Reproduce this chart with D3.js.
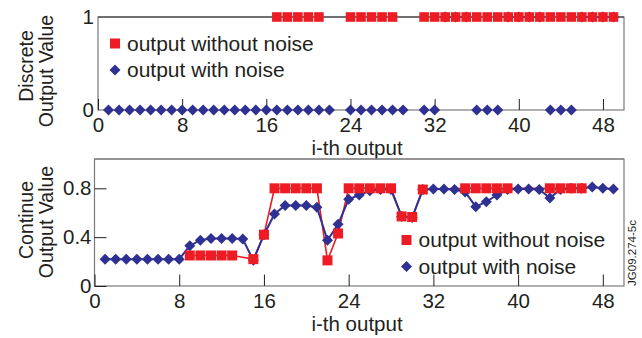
<!DOCTYPE html>
<html>
<head>
<meta charset="utf-8">
<script src="https://cdn.jsdelivr.net/npm/d3@7"></script>
<style>
body { margin: 0; background: #fff; }
svg text { font-family: "Liberation Sans", Arial, Helvetica, sans-serif; fill: #231f20; }
</style>
</head>
<body>
<div class="canvas"></div>
<script>
// i-th output (categories)
const outputIndex = [1,2,3,4,5,6,7,8,9,10,11,12,13,14,15,16,17,18,19,20,21,22,23,24,25,
    26,27,28,29,30,31,32,33,34,35,36,37,38,39,40,41,42,43,44,45,46,47,48,49];

// discrete output, null = not plotted
const discreteNoNoise = [null,null,null,null,null,null,null,null,null,null,null,null,null,null,null,null,
    1,1,1,1,1,null,null,1,1,1,1,1,null,null,
    1,1,1,1,1,1,1,1,1,1,1,1,1,1,1,1,1,1,1];
const discreteNoise = [0,0,0,0,0,0,0,0,0,0,0,0,0,0,0,0,0,0,0,0,0,0,null,
    0,0,0,0,0,0,null,0,0,1,1,1,0,0,0,1,1,1,1,0,0,0,1,1,1,1];

// continue output
const contNoNoise = [null,null,null,null,null,null,null,null,
    0.25,0.25,0.25,0.25,0.25,null,0.22,0.42,
    0.80,0.80,0.80,0.80,0.80,0.21,0.43,
    0.80,0.80,0.80,0.80,0.80,0.57,0.565,0.79,
    null,null,null,0.80,0.80,0.80,0.80,0.80,
    null,null,null,0.80,0.80,0.80,0.80,null,null,null];
const contNoise = [0.22,0.22,0.22,0.22,0.22,0.22,0.22,0.22,
    0.33,0.375,0.39,0.39,0.39,0.385,0.21,0.42,
    0.59,0.66,0.66,0.66,0.645,0.375,0.505,
    0.71,0.745,0.78,0.79,0.79,0.57,0.56,0.79,
    0.795,0.795,0.79,0.77,0.65,0.69,0.745,0.79,
    0.795,0.795,0.79,0.72,0.79,0.80,0.80,0.81,0.80,0.795];

const xTicks = [0, 8, 16, 24, 32, 40, 48];
const discreteTicks = [0, 1];
const continueTicks = [0, 0.4, 0.8];
const legendLabels = ["output without noise", "output with noise"];

const red = "#ed1c24", blue = "#2e3192";

const svg = d3.select(".canvas").append("svg")
    .attr("width", 642)
    .attr("height", 338);

// marker helpers
const square = (g, x, y, s) => g.append("rect")
    .attr("x", x - s / 2).attr("y", y - s / 2)
    .attr("width", s).attr("height", s)
    .attr("fill", red);

const diamond = (g, x, y, h) => g.append("path")
    .attr("d", `M${x},${y - h}L${x + h},${y}L${x},${y + h}L${x - h},${y}Z`)
    .attr("fill", blue);

const frame = (box, topColor) => {
    svg.append("rect")
        .attr("x", box.left).attr("y", box.top)
        .attr("width", box.right - box.left).attr("height", box.bottom - box.top)
        .attr("fill", "none").attr("stroke", "#7a7a7a").attr("stroke-width", 1.2);
    svg.append("line")
        .attr("x1", box.left).attr("x2", box.right)
        .attr("y1", box.top).attr("y2", box.top)
        .attr("stroke", topColor).attr("stroke-width", 1.2);
};

const styleAxis = (g) => {
    g.select(".domain").remove();
    g.selectAll("line").attr("stroke", "#231f20");
    g.selectAll("text").attr("font-size", 20.5).attr("fill", "#231f20")
        .style("font-family", '"Liberation Sans", Arial, sans-serif');
};

const yTitle = (lines, xs, ys) => {
    lines.forEach((t, i) => {
        svg.append("text")
            .attr("transform", `translate(${xs[i]},${ys[i]}) rotate(-90)`)
            .attr("text-anchor", "middle")
            .attr("font-size", 19.5)
            .text(t);
    });
};

const legend = (x, y, gap) => {
    const lg = svg.append("g");
    square(lg, x, y, 10);
    diamond(lg, x, y + gap, 5.5);
    legendLabels.forEach((t, i) => {
        lg.append("text")
            .attr("x", x + 12).attr("y", y + i * gap + 7)
            .attr("font-size", 21)
            .text(t);
    });
};

// ---------- top panel: discrete ----------
const topBox = {left: 98, right: 624, top: 17, bottom: 110};
const xTop = d3.scaleLinear().domain([0, 50]).range([topBox.left, topBox.right]);
const yTop = d3.scaleLinear().domain([0, 1]).range([topBox.bottom, topBox.top]);

frame(topBox, "#333");

svg.append("g")
    .attr("transform", `translate(0,${topBox.bottom})`)
    .call(d3.axisBottom(xTop).tickValues(xTicks).tickSizeInner(-11).tickSizeOuter(0).tickPadding(7))
    .call(styleAxis);

svg.append("g")
    .attr("transform", `translate(${topBox.left},0)`)
    .call(d3.axisLeft(yTop).tickValues(discreteTicks).tickSize(0).tickPadding(4).tickFormat(d3.format("d")))
    .call(styleAxis);

const topMarks = svg.append("g");
outputIndex.forEach((k, i) => {
    if (discreteNoise[i] !== null) diamond(topMarks, xTop(k), yTop(discreteNoise[i]), 5.5);
});
outputIndex.forEach((k, i) => {
    if (discreteNoNoise[i] !== null) square(topMarks, xTop(k), yTop(discreteNoNoise[i]), 9.6);
});

legend(115, 43.5, 26.5);

svg.append("text")
    .attr("x", 357).attr("y", 155)
    .attr("text-anchor", "middle").attr("font-size", 20.5)
    .text("i-th output");

yTitle(["Discrete", "Output Value"], [33, 53], [66, 71]);

// ---------- bottom panel: continue ----------
const botBox = {left: 94.5, right: 624, top: 159, bottom: 286};
const xBot = d3.scaleLinear().domain([0, 50]).range([botBox.left, botBox.right]);
const yBot = d3.scaleLinear().domain([0, 1.04]).range([botBox.bottom, botBox.top]);

frame(botBox, "#7a7a7a");

svg.append("g")
    .attr("transform", `translate(0,${botBox.bottom})`)
    .call(d3.axisBottom(xBot).tickValues(xTicks).tickSizeInner(-11.5).tickSizeOuter(0).tickPadding(7))
    .call(styleAxis);

svg.append("g")
    .attr("transform", `translate(${botBox.left},0)`)
    .call(d3.axisLeft(yBot).tickValues(continueTicks).tickSizeInner(-12).tickSizeOuter(0).tickPadding(3)
        .tickFormat(d => d === 0 ? "0" : d3.format(".1f")(d)))
    .call(styleAxis);

const redPts = outputIndex.map((k, i) => [k, contNoNoise[i]]).filter(p => p[1] !== null);
const bluePts = outputIndex.map((k, i) => [k, contNoise[i]]);

const line = d3.line().x(p => xBot(p[0])).y(p => yBot(p[1]));

svg.append("path").attr("d", line(redPts))
    .attr("fill", "none").attr("stroke", red).attr("stroke-width", 1.6);
svg.append("path").attr("d", line(bluePts))
    .attr("fill", "none").attr("stroke", blue).attr("stroke-width", 2);

const botMarks = svg.append("g");
bluePts.forEach(p => diamond(botMarks, xBot(p[0]), yBot(p[1]), 5.5));
redPts.forEach(p => square(botMarks, xBot(p[0]), yBot(p[1]), 10));

legend(406.5, 240, 26.5);

svg.append("text")
    .attr("x", 357).attr("y", 331)
    .attr("text-anchor", "middle").attr("font-size", 20.5)
    .text("i-th output");

yTitle(["Continue", "Output Value"], [33, 53], [220, 222]);

// figure id
svg.append("text")
    .attr("transform", "translate(636,253) rotate(-90)")
    .attr("text-anchor", "middle")
    .attr("font-size", 11.5)
    .attr("fill", "#333")
    .text("JG09.274-5c");
</script>
</body>
</html>
